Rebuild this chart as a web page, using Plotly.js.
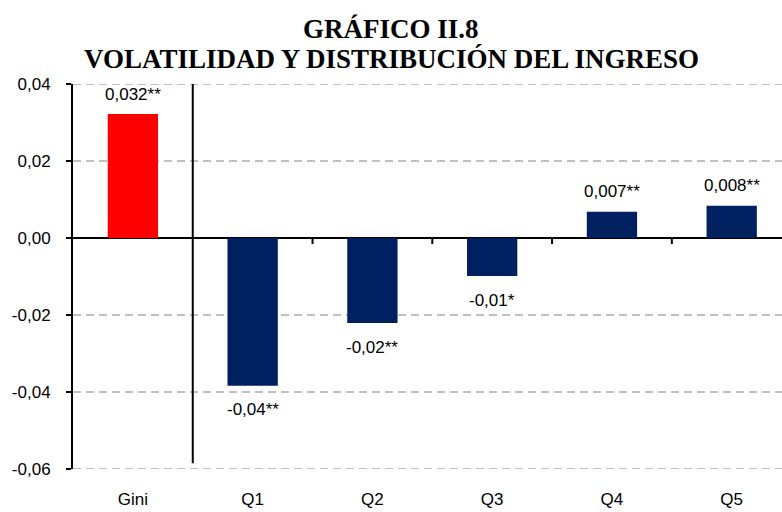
<!DOCTYPE html>
<html>
<head>
<meta charset="utf-8">
<script src="https://cdn.plot.ly/plotly-3.0.1.min.js"></script>
<style>html,body{margin:0;padding:0;background:#fff;}#chart{width:782px;height:512px;}</style>
</head>
<body>
<div id="chart"></div>
<script>
const titleLines = ["GRÁFICO II.8", "VOLATILIDAD Y DISTRIBUCIÓN DEL INGRESO"];
const categories = ["Gini", "Q1", "Q2", "Q3", "Q4", "Q5"];
const values = [0.0322, -0.0384, -0.0221, -0.0099, 0.0068, 0.0084];
const valueLabels = ["0,032**", "-0,04**", "-0,02**", "-0,01*", "0,007**", "0,008**"];
const barColors = ["#ff0000", "#002060", "#002060", "#002060", "#002060", "#002060"];
const yTicks = [-0.06, -0.04, -0.02, 0.00, 0.02, 0.04];
const yTickText = ["-0,06", "-0,04", "-0,02", "0,00", "0,02", "0,04"];

const fontSans = "Liberation Sans, Arial, sans-serif";
const fontSerif = "Liberation Serif, Times New Roman, serif";

const W = 782, ML = 73, MR = 0;
const titleX = (W / 2 - ML) / (W - ML - MR);

const trace = {
  type: "bar",
  x: categories.map((c, i) => i),
  y: values,
  marker: { color: barColors, line: { width: 0 } },
  width: 0.42,
  hoverinfo: "none"
};

const annotations = categories.map((c, i) => ({
  x: i, y: values[i], xref: "x", yref: "y",
  text: valueLabels[i], showarrow: false,
  yshift: values[i] >= 0 ? 20 : -24,
  font: { family: fontSans, size: 17, color: "#000" }
}));
// two-line title, centred on the whole figure
annotations.push({
  xref: "paper", yref: "paper", x: titleX, y: 1, xanchor: "center", yanchor: "bottom",
  yshift: 38, text: "<b>" + titleLines[0] + "</b>", showarrow: false,
  font: { family: fontSerif, size: 27, color: "#000" }
});
annotations.push({
  xref: "paper", yref: "paper", x: titleX, y: 1, xanchor: "center", yanchor: "bottom",
  yshift: 8, text: "<b>" + titleLines[1] + "</b>", showarrow: false,
  font: { family: fontSerif, size: 27, color: "#000" }
});

const shapes = [];
// dashed gridlines at the range edges (Plotly hides them there)
[yTicks[0], yTicks[yTicks.length - 1]].forEach(v => {
  shapes.push({ type: "line", xref: "paper", yref: "y", x0: 0, x1: 1, y0: v, y1: v,
    layer: "below", line: { color: "#c0c0c0", width: 2, dash: "8px,5px" } });
});
// separator line between Gini and quintiles
shapes.push({ type: "line", xref: "x", yref: "y", x0: 0.5, x1: 0.5, y0: 0.04, y1: -0.0585,
  line: { color: "#000", width: 2 } });
// tick marks on the category axis (at zero)
for (let k = 2; k < categories.length; k++) {
  shapes.push({ type: "line", xref: "x", yref: "y", x0: k - 0.5, x1: k - 0.5,
    ysizemode: "pixel", yanchor: 0, y0: 0, y1: -6, line: { color: "#000", width: 2 } });
}

const layout = {
  width: W, height: 512,
  margin: { l: ML, r: MR, t: 84, b: 43 },
  paper_bgcolor: "#fff", plot_bgcolor: "#fff",
  separators: ",.",
  showlegend: false,
  xaxis: {
    range: [-0.5, 5.42],
    tickmode: "array", tickvals: categories.map((c, i) => i), ticktext: categories,
    showgrid: false, zeroline: false, showline: false, ticks: "",
    ticklabelstandoff: 18,
    tickfont: { family: fontSans, size: 17, color: "#000" }
  },
  yaxis: {
    range: [-0.06, 0.04],
    tickmode: "array", tickvals: yTicks, ticktext: yTickText,
    showgrid: true, gridcolor: "#c0c0c0", gridwidth: 2, griddash: "8px,5px",
    zeroline: true, zerolinecolor: "#000", zerolinewidth: 2,
    showline: true, linecolor: "#000", linewidth: 2,
    ticks: "outside", ticklen: 5, tickwidth: 2, tickcolor: "#000",
    ticklabelstandoff: 12,
    tickfont: { family: fontSans, size: 17, color: "#000" }
  },
  shapes: shapes,
  annotations: annotations
};

Plotly.newPlot("chart", [trace], layout, { displayModeBar: false, staticPlot: true });
</script>
</body>
</html>
